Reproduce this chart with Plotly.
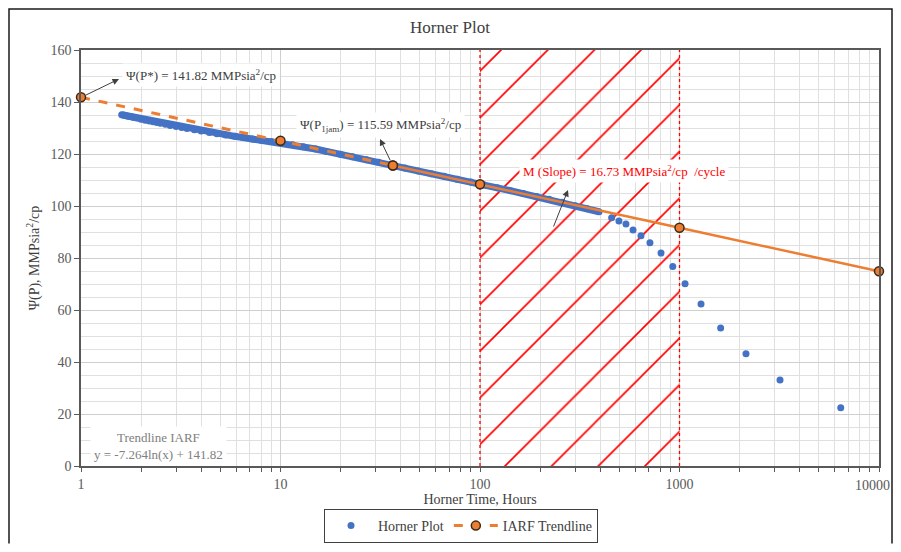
import plotly.graph_objects as go

# Horner time (hours) and pseudo-pressure readings
horner_time = [
    1.6, 1.65, 1.7, 1.75, 1.8, 1.85, 1.9, 2.0, 2.1, 2.2, 2.3, 2.4, 2.5, 2.65,
    2.8, 3.0, 3.2, 3.4, 3.7, 4.0, 4.4, 4.8, 5.3, 5.9, 6.5, 7.2, 8.0, 9.0, 10.0,
    11.5, 13, 15, 17, 20, 23, 27, 31, 36, 42, 49, 57, 66, 77, 90, 105, 122,
    142, 165, 192, 222, 258, 300, 345, 395, 457, 497, 539, 585, 641, 711, 808,
    925, 1066, 1282, 1608, 2154, 3190, 6430,
]
psi_p = [
    135.1, 134.9, 134.6, 134.4, 134.2, 134.0, 133.8, 133.4, 133.0, 132.7, 132.4,
    132.1, 131.8, 131.4, 131.0, 130.6, 130.2, 129.8, 129.3, 128.8, 128.3, 127.8,
    127.3, 126.8, 126.3, 125.8, 125.3, 124.8, 124.4, 123.6, 122.8, 121.9, 121.0,
    119.9, 118.9, 117.8, 116.8, 115.7, 114.6, 113.5, 112.4, 111.4, 110.3, 109.2,
    108.1, 107.0, 105.9, 104.8, 103.7, 102.6, 101.4, 100.1, 98.9, 97.8, 95.5,
    94.2, 93.1, 90.8, 88.6, 85.9, 81.9, 76.7, 70.1, 62.3, 53.1, 43.2, 33.1, 22.4,
]
# early points sit so close together that they merge into one band
dense_count = 54

# IARF trendline points: y = -7.264 ln(x) + 141.82
trend_time = [1, 10, 36.6, 100, 1000, 10000]
trend_psi = [141.82, 125.09, 115.59, 108.37, 91.64, 74.91]

iarf_window = [100, 1000]
psi_range = [0, 160]
x_ticks = [1, 10, 100, 1000, 10000]

BLUE = "#4472C4"
ORANGE = "#ED7D31"
RED = "#FF0000"
FONT = "Liberation Serif"

# the page adds an 8px body margin, so the figure is 16px smaller than the window
W, H = 885, 536
OFF = 8
# plot area edges in screen pixels
X_LEFT, X_RIGHT, Y_TOP, Y_BOTTOM = 81, 879, 50, 466
PW, PH = X_RIGHT - X_LEFT, Y_BOTTOM - Y_TOP


def paper(px, py):
    return (px - X_LEFT) / PW, (Y_BOTTOM - py) / PH


fig = go.Figure()

# hatched IARF window
w0, w1 = iarf_window
y0, y1 = psi_range
fig.add_trace(go.Scatter(
    x=[w0, w1, w1, w0, w0], y=[y0, y0, y1, y1, y0],
    mode="none", fill="toself", fillcolor="rgba(0,0,0,0)",
    fillpattern=dict(shape="/", fgcolor=RED, fgopacity=1, bgcolor="rgba(0,0,0,0)",
                     size=33, solidity=0.05),
    showlegend=False, hoverinfo="skip",
))
for wx in iarf_window:
    fig.add_trace(go.Scatter(
        x=[wx, wx], y=psi_range, mode="lines",
        line=dict(color=RED, width=1.3, dash="dot"),
        showlegend=False, hoverinfo="skip",
    ))

fig.add_trace(go.Scatter(
    x=horner_time[:dense_count], y=psi_p[:dense_count], mode="lines",
    line=dict(color=BLUE, width=7), legendgroup="horner", showlegend=False,
    hoverinfo="skip",
))
fig.add_trace(go.Scatter(
    x=horner_time, y=psi_p, mode="markers", name="Horner Plot",
    legendgroup="horner", marker=dict(color=BLUE, size=7),
))

marker_style = dict(color=ORANGE, size=9, line=dict(color="#3A2A1A", width=1.5))
fig.add_trace(go.Scatter(
    x=trend_time[:3], y=trend_psi[:3], mode="lines+markers",
    name="IARF Trendline", legendgroup="iarf",
    line=dict(color=ORANGE, width=3, dash="dash"), marker=marker_style,
    cliponaxis=False,
))
fig.add_trace(go.Scatter(
    x=trend_time[2:], y=trend_psi[2:], mode="lines+markers",
    name="IARF Trendline", legendgroup="iarf", showlegend=False,
    line=dict(color=ORANGE, width=2.5), marker=marker_style,
    cliponaxis=False,
))

# text boxes (centres in screen pixels)
labels = [
    ("Ψ(P*) = 141.82 MMPsia<sup>2</sup>/cp", (201, 75), "#404040"),
    ("Ψ(P<sub>1jam</sub>) = 115.59 MMPsia<sup>2</sup>/cp", (380, 125), "#404040"),
    ("M (Slope) = 16.73 MMPsia<sup>2</sup>/cp  /cycle", (624, 171), RED),
    ("Trendline IARF<br>y = -7.264ln(x) + 141.82", (158, 446), "#808080"),
]
for text, (px, py), color in labels:
    xp, yp = paper(px, py)
    fig.add_annotation(
        text=text, x=xp, y=yp, xref="paper", yref="paper",
        xanchor="center", yanchor="middle",
        showarrow=False, bgcolor="white", borderpad=3,
        font=dict(family=FONT, size=13, color=color),
    )

# arrows: (head, tail) in screen pixels
arrows = [((119, 79), (84, 96)), ((380, 139), (391, 162)), ((568, 190), (553, 228))]
for (hx, hy), (tx, ty) in arrows:
    xp, yp = paper(hx, hy)
    fig.add_annotation(
        text="", x=xp, y=yp, xref="paper", yref="paper",
        ax=tx - hx, ay=ty - hy, showarrow=True,
        arrowhead=2, arrowsize=1.3, arrowwidth=1, arrowcolor="#404040",
    )

# last decade label would run past the page edge, so pin it inside
tick_text = [str(v) for v in x_ticks]
last_label = tick_text[-1]
tick_text[-1] = ""
lx, ly = paper(892, 485)
fig.add_annotation(
    text=last_label, x=lx, y=ly, xref="paper", yref="paper",
    xanchor="right", yanchor="middle", showarrow=False,
    font=dict(family=FONT, size=14, color="#595959"),
)

# outer frame (left, top and right sides; the bottom runs off the page)
fx0, fy0 = paper(9, 543.5)
fx1, fy1 = paper(892, 9)
fig.add_shape(type="path", xref="paper", yref="paper",
              path=f"M {fx0},{fy0} L {fx0},{fy1} L {fx1},{fy1} L {fx1},{fy0}",
              line=dict(color="#1A1A1A", width=1.5))

fig.update_layout(
    width=W, height=H,
    margin=dict(l=X_LEFT - OFF, r=W + OFF - X_RIGHT, t=Y_TOP - OFF,
                b=H + OFF - Y_BOTTOM, autoexpand=False),
    paper_bgcolor="white", plot_bgcolor="white",
    font=dict(family=FONT, size=14, color="#595959"),
    title=dict(text="Horner Plot", x=(450 - OFF) / W, xref="container",
               y=1 - (27 - OFF) / H, yanchor="middle",
               font=dict(family=FONT, size=17, color="#404040")),
    legend=dict(
        orientation="h", x=paper(461, 0)[0], xanchor="center",
        y=paper(0, 543)[1], yanchor="bottom", itemwidth=44,
        bordercolor="#404040", borderwidth=1,
        font=dict(family=FONT, size=14, color="#404040"),
    ),
    showlegend=True,
)
fig.update_xaxes(
    type="log", range=[0, 4], tickvals=x_ticks, ticktext=tick_text,
    automargin=False,
    showline=True, linecolor="#595959", linewidth=1.5, mirror=True,
    ticks="outside", ticklen=4, tickcolor="#595959",
    showgrid=True, gridcolor="#CFCFCF", gridwidth=1,
    minor=dict(dtick="D1", showgrid=True, gridcolor="#E0E0E0",
               ticks="outside", ticklen=4, tickcolor="#595959"),
    title=dict(text="Horner Time, Hours", standoff=3,
               font=dict(family=FONT, size=14, color="#404040")),
    zeroline=False,
)
fig.update_yaxes(
    range=psi_range, dtick=20, automargin=False,
    showline=True, linecolor="#595959", linewidth=1.5, mirror=True,
    ticks="outside", ticklen=5, tickcolor="#595959",
    showgrid=True, gridcolor="#CFCFCF", gridwidth=1,
    minor=dict(dtick=5, showgrid=True, gridcolor="#E0E0E0"),
    title=dict(text="Ψ(P), MMPsia<sup>2</sup>/cp", standoff=8,
               font=dict(family=FONT, size=14, color="#404040")),
    zeroline=False,
)

fig.write_html("out.html")
